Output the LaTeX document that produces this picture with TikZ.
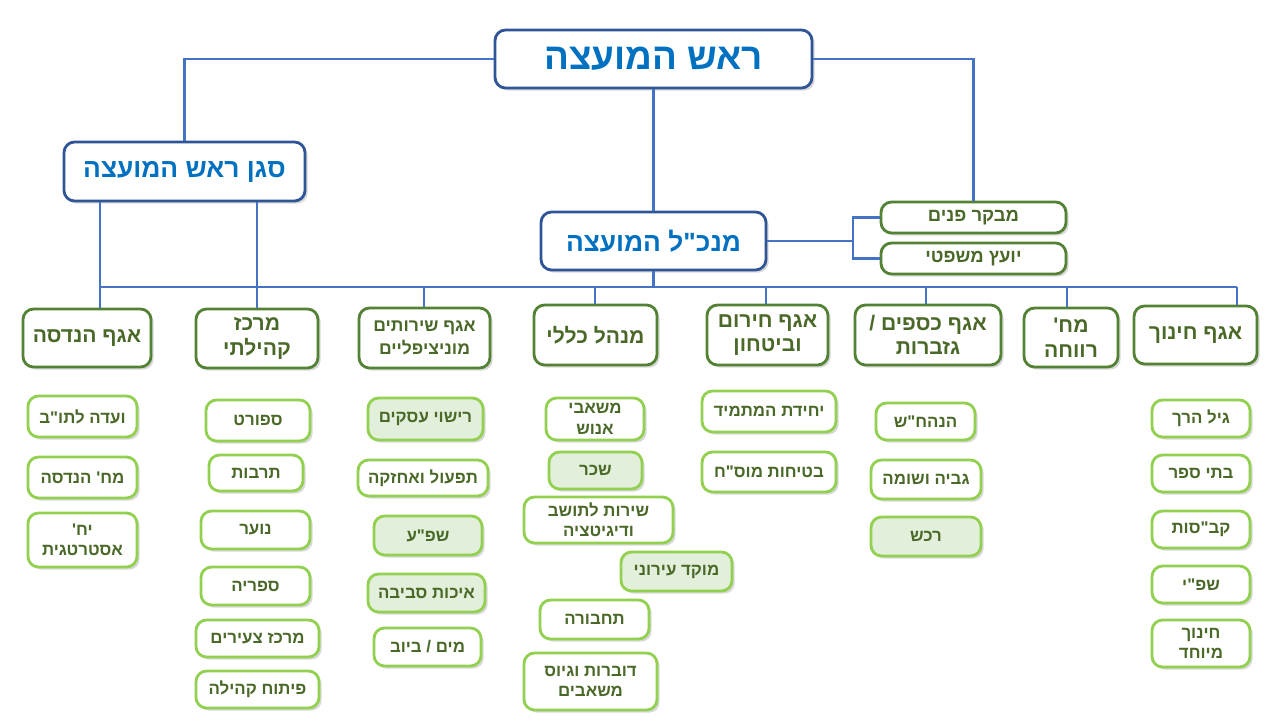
\documentclass[tikz,border=0pt]{standalone}
\usepackage{fontspec}
\usepackage{tikz}
\usetikzlibrary{shadows}
\TeXXeTstate=1
\newfontfamily\hebfont[Script=Hebrew]{Liberation Sans}
\newcommand{\rtl}[1]{\beginR#1\endR}
\definecolor{topblue}{HTML}{2F5597}
\definecolor{titleblue}{HTML}{0070C0}
\definecolor{linkblue}{HTML}{4472C4}
\definecolor{deptgreen}{HTML}{548235}
\definecolor{textgreen}{HTML}{4A6828}
\definecolor{unitgreen}{HTML}{92D050}
\definecolor{unitfill}{HTML}{E2EFDA}

\tikzset{
  sz/.style 2 args={minimum width=#1*0.02cm,minimum height=#2*0.02cm},
  boxbase/.style={rounded corners=6pt,fill=white,inner sep=0pt,align=center,
    drop shadow={opacity=0.3,shadow xshift=1.5pt,shadow yshift=-1.5pt}},
  headbox/.style={boxbase,draw=topblue,line width=1.6pt,text=titleblue,
    font=\hebfont\bfseries\fontsize{15}{17}\selectfont},
  deptbox/.style={boxbase,draw=deptgreen,line width=1.6pt,text=textgreen,
    font=\hebfont\bfseries\fontsize{12}{14}\selectfont},
  staffbox/.style={deptbox,font=\hebfont\bfseries\fontsize{10.5}{12}\selectfont},
  unitbox/.style={boxbase,draw=unitgreen,line width=1.6pt,text=textgreen,
    font=\hebfont\bfseries\fontsize{9.6}{11.5}\selectfont},
  unitfilled/.style={unitbox,fill=unitfill},
  link/.style={draw=linkblue,line width=1.2pt},
}

\begin{document}
\begin{tikzpicture}[x=0.02cm,y=-0.02cm]
  \useasboundingbox (0,0) rectangle (1280,720);

  % Ledelse
  \node[headbox,sz={317}{58},font=\hebfont\bfseries\fontsize{21}{23}\selectfont] (chair) at (653.5,59) {\rtl{ראש המועצה}};
  \node[headbox,sz={241}{59}] (deputy) at (184.5,171.5) {\rtl{סגן ראש המועצה}};
  \node[headbox,sz={225}{58}] (ceo) at (653.5,241) {\rtl{מנכ"ל המועצה}};
  \node[staffbox,sz={185}{31}] (auditor) at (973.5,217.5) {\rtl{מבקר פנים}};
  \node[staffbox,sz={185}{31}] (legal) at (973.5,258.5) {\rtl{יועץ משפטי}};

  % Afdelinger
  \node[deptbox,sz={128}{58}] (eng) at (87,338) {\rtl{אגף הנדסה}};
  \node[deptbox,sz={122}{59}] (comm) at (257,338.5) {\rtl{מרכז}\\\rtl{קהילתי}};
  \node[deptbox,sz={131}{60},font=\hebfont\bfseries\fontsize{10}{13}\selectfont] (muni) at (424.5,338) {\rtl{אגף שירותים}\\\rtl{מוניציפליים}};
  \node[deptbox,sz={123}{60}] (admin) at (595.5,335) {\rtl{מנהל כללי}};
  \node[deptbox,sz={121}{60}] (emerg) at (767.5,335) {\rtl{אגף חירום}\\\rtl{וביטחון}};
  \node[deptbox,sz={146}{60}] (fin) at (928,335) {\rtl{אגף כספים /}\\\rtl{גזברות}};
  \node[deptbox,sz={94}{59}] (welf) at (1071,337.5) {\rtl{מח'}\\\rtl{רווחה}};
  \node[deptbox,sz={123}{58}] (edu) at (1195.5,335) {\rtl{אגף חינוך}};

  % Forbindelser
  \coordinate (b1) at (100,287);
  \coordinate (b2) at (257,287);
  \coordinate (b3) at (424,287);
  \coordinate (b4) at (595,287);
  \coordinate (b5) at (766,287);
  \coordinate (b6) at (926,287);
  \coordinate (b7) at (1067,287);
  \coordinate (b8) at (1237,287);
  \coordinate (fork) at (853,241);

  \draw[link] (chair.west) -| (deputy.north);
  \draw[link] (chair.east) -| (auditor.north);
  \draw[link] (chair.south) -- (ceo.north);
  \draw[link] (ceo.east) -- (fork);
  \draw[link] (auditor.west) -| (fork) |- (legal.west);
  \draw[link] (ceo.south) -- (ceo.south |- b1);
  \draw[link] (b1) -- (b8);
  \draw[link] (b1 |- deputy.south) -- (b1 |- eng.north);
  \draw[link] (b2 |- deputy.south) -- (b2 |- comm.north);
  \draw[link] (b3) -- (b3 |- muni.north);
  \draw[link] (b4) -- (b4 |- admin.north);
  \draw[link] (b5) -- (b5 |- emerg.north);
  \draw[link] (b6) -- (b6 |- fin.north);
  \draw[link] (b7) -- (b7 |- welf.north);
  \draw[link] (b8) -- (b8 |- edu.north);

  % Enheder - handasa
  \node[unitbox,sz={109}{41}] (eng1) at (82.5,416.5) {\rtl{ועדה לתו"ב}};
  \node[unitbox,sz={109}{41}] (eng2) at (82.5,477.5) {\rtl{מח' הנדסה}};
  \node[unitbox,sz={109}{54}] (eng3) at (82.5,540) {\rtl{יח'}\\\rtl{אסטרטגית}};

  % Enheder - merkaz
  \node[unitbox,sz={104}{41}] (comm1) at (258,420.5) {\rtl{ספורט}};
  \node[unitbox,sz={94}{36}] (comm2) at (256,473) {\rtl{תרבות}};
  \node[unitbox,sz={109}{38}] (comm3) at (255.5,530) {\rtl{נוער}};
  \node[unitbox,sz={109}{38}] (comm4) at (255.5,586) {\rtl{ספריה}};
  \node[unitbox,sz={123}{37}] (comm5) at (257.5,638.5) {\rtl{מרכז צעירים}};
  \node[unitbox,sz={123}{37}] (comm6) at (257.5,689.5) {\rtl{פיתוח קהילה}};

  % Enheder - sherutim
  \node[unitfilled,sz={115}{42}] (muni1) at (425.5,419) {\rtl{רישוי עסקים}};
  \node[unitbox,sz={130}{36}] (muni2) at (423,478) {\rtl{תפעול ואחזקה}};
  \node[unitfilled,sz={108}{39}] (muni3) at (428,535.5) {\rtl{שפ"ע}};
  \node[unitfilled,sz={117}{38}] (muni4) at (426.5,593) {\rtl{איכות סביבה}};
  \node[unitbox,sz={107}{38}] (muni5) at (427.5,647) {\rtl{מים / ביוב}};

  % Enheder - minhal
  \node[unitbox,sz={98}{42}] (adm1) at (595,419) {\rtl{משאבי}\\\rtl{אנוש}};
  \node[unitfilled,sz={93}{37}] (adm2) at (595.5,470.5) {\rtl{שכר}};
  \node[unitbox,sz={149}{46}] (adm3) at (598.5,520) {\rtl{שירות לתושב}\\\rtl{ודיגיטציה}};
  \node[unitfilled,sz={111}{39}] (adm4) at (676.5,571.5) {\rtl{מוקד עירוני}};
  \node[unitbox,sz={109}{39}] (adm5) at (594.5,619.5) {\rtl{תחבורה}};
  \node[unitbox,sz={133}{57}] (adm6) at (590.5,681.5) {\rtl{דוברות וגיוס}\\\rtl{משאבים}};

  % Enheder - chirum
  \node[unitbox,sz={134}{41}] (emg1) at (769,411.5) {\rtl{יחידת המתמיד}};
  \node[unitbox,sz={134}{40}] (emg2) at (769,472) {\rtl{בטיחות מוס"ח}};

  % Enheder - ksafim
  \node[unitbox,sz={99}{37}] (fin1) at (925.5,421.5) {\rtl{הנהח"ש}};
  \node[unitbox,sz={110}{39}] (fin2) at (926,479.5) {\rtl{גביה ושומה}};
  \node[unitfilled,sz={110}{39}] (fin3) at (926,536.5) {\rtl{רכש}};

  % Enheder - chinuch
  \node[unitbox,sz={98}{37}] (edu1) at (1201,418.5) {\rtl{גיל הרך}};
  \node[unitbox,sz={98}{37}] (edu2) at (1201,473.5) {\rtl{בתי ספר}};
  \node[unitbox,sz={98}{37}] (edu3) at (1201,529.5) {\rtl{קב"סות}};
  \node[unitbox,sz={98}{37}] (edu4) at (1201,584.5) {\rtl{שפ"י}};
  \node[unitbox,sz={98}{47}] (edu5) at (1201,643.5) {\rtl{חינוך}\\\rtl{מיוחד}};
\end{tikzpicture}
\end{document}
